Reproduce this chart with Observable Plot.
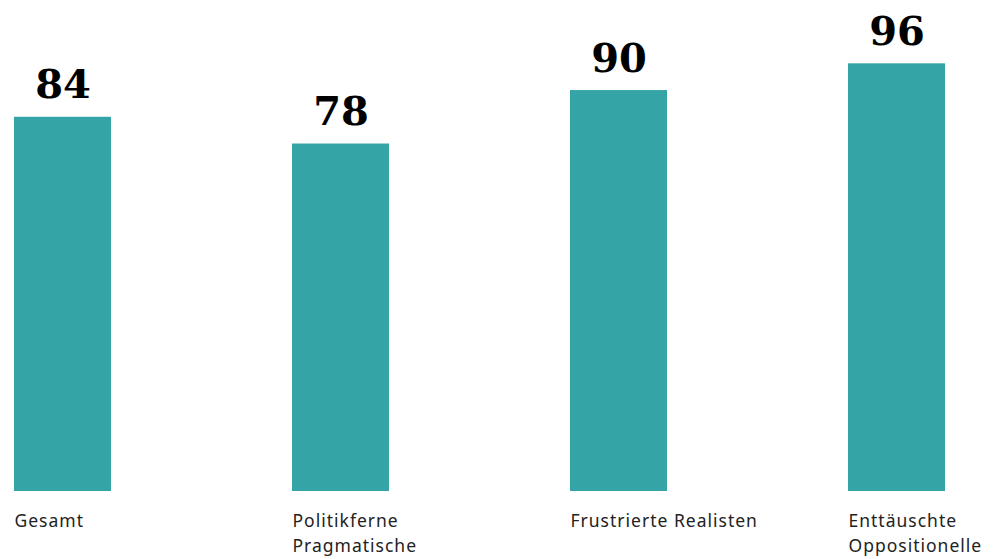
<!DOCTYPE html>
<html><head><meta charset="utf-8">
<script src="https://cdn.jsdelivr.net/npm/d3@7"></script>
<script src="https://cdn.jsdelivr.net/npm/@observablehq/plot@0.6"></script>
<style>
body{margin:0;background:#fff;}
.cat text{letter-spacing:1px;}
</style>
</head><body>
<div id="chart"></div>
<script>
const categories = ["Gesamt", "Politikferne\nPragmatische", "Frustrierte Realisten", "Enttäuschte\nOppositionelle"];
const values = [84, 78, 90, 96];
const data = categories.map((c, i) => ({cat: c, value: values[i]}));

const chart = Plot.plot({
  width: 995,
  height: 559,
  marginTop: 45.5,
  marginBottom: 68,
  marginLeft: 14,
  marginRight: 49,
  x: {domain: categories, paddingInner: 0.651, paddingOuter: 0, align: 0},
  y: {domain: [0, 100], axis: null},
  marks: [
    Plot.barY(data, {x: "cat", y: "value", fill: "#35a4a6"}),
    Plot.text(data, {x: "cat", y: "value", text: d => String(d.value), lineAnchor: "bottom", dy: -19,
      fontFamily: "DejaVu Serif", fontWeight: "bold", fontSize: 40, fill: "#000"}),
    Plot.axisX({tickSize: 0, textAnchor: "start", dx: -48.5, dy: 9, lineHeight: 1.43, label: null,
      fontFamily: "Noto Sans", fontSize: 17.5, fill: "#222", className: "cat"})
  ]
});
chart.style.fontFamily = "Noto Sans";
document.getElementById("chart").appendChild(chart);
</script>
</body></html>
